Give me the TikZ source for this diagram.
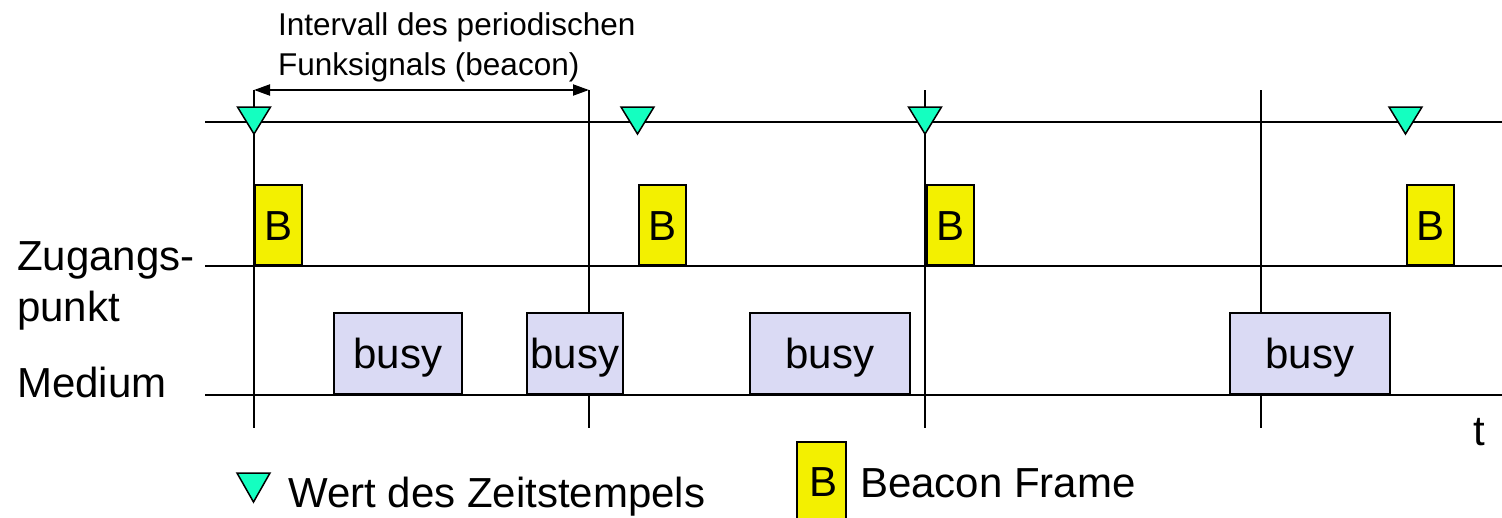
\documentclass[tikz,border=0pt]{standalone}
\usepackage{fontspec}
\setmainfont{Liberation Sans}
\usetikzlibrary{arrows.meta}
\definecolor{byellow}{RGB}{243,240,0}
\definecolor{busyc}{RGB}{218,218,244}
\definecolor{mint}{RGB}{20,255,192}
\tikzset{
  ln/.style={line width=2pt, black},
  bbox/.style={draw=black, line width=1.8pt, fill=byellow, inner sep=0pt,
    minimum width=47pt, minimum height=80pt, anchor=south west,
    font=\fontsize{42}{50}\selectfont, text height=30pt, text depth=0pt},
  busybox/.style={draw=black, line width=1.8pt, fill=busyc, inner sep=0pt,
    minimum height=81pt, anchor=south west,
    font=\fontsize{42}{50}\selectfont, text height=30pt, text depth=0pt},
  tri/.style={draw=black, line width=1.5pt, fill=mint, line join=miter},
  lbl/.style={anchor=base west, inner sep=0pt, font=\fontsize{42}{50}\selectfont},
  small/.style={anchor=base west, inner sep=0pt, font=\fontsize{31.5}{40}\selectfont},
}
\begin{document}
\begin{tikzpicture}[x=1pt,y=-1pt]
\useasboundingbox (0,0) rectangle (1502,517);
% vertical markers
\foreach \n/\x in {1/254,2/589,3/925,4/1261}{
  \coordinate (vt\n) at (\x,90);
  \coordinate (vb\n) at (\x,428);
  \draw[ln] (vt\n) -- (vb\n);
}
% horizontal time lines
\coordinate (h1a) at (205,122); \coordinate (h1b) at (1502,122);
\coordinate (h2a) at (205,266); \coordinate (h2b) at (1502,266);
\coordinate (h3a) at (205,395); \coordinate (h3b) at (1502,395);
\draw[ln] (h1a) -- (h1b);
\draw[ln] (h2a) -- (h2b);
\draw[ln] (h3a) -- (h3b);
% interval arrow
\draw[ln, {Triangle[length=16pt,width=11pt]}-{Triangle[length=16pt,width=11pt]}] (vt1) -- (vt2);
\node[small] (int1) at (278,35) {Intervall des periodischen};
\node[small] (int2) at (278,75) {Funksignals (beacon)};
% beacon frames
\node[bbox] (b1) at (254,266) {B};
\node[bbox] (b2) at (638,266) {B};
\node[bbox] (b3) at (926,266) {B};
\node[bbox] (b4) at (1406,266) {B};
% busy boxes
\node[busybox, minimum width=128pt] (m1) at (333,395) {busy};
\node[busybox, minimum width=96pt] (m2) at (526,395) {busy};
\node[busybox, minimum width=160pt] (m3) at (749,395) {busy};
\node[busybox, minimum width=160pt] (m4) at (1229,395) {busy};
% timestamp triangles
\foreach \x in {254,637.5,925,1405.5}{
  \draw[tri] (\x-16.5,107) -- (\x+16.5,107) -- (\x,134) -- cycle;
}
% labels
\node[lbl] (zug) at (17,270) {Zugangs-};
\node[lbl] (pkt) at (17,321) {punkt};
\node[lbl] (med) at (17,397) {Medium};
\node[lbl] (t) at (1473,445) {t};
% legend
\draw[tri] (237,473) -- (270,473) -- (253.5,502) -- cycle;
\node[lbl] (lg1) at (288,507) {Wert des Zeitstempels};
\draw[draw=black, line width=1.8pt, fill=byellow] (797,530) -- (797,442) -- (846,442) -- (846,530);
\node[lbl] (lgb) at (809,496) {B};
\node[lbl] (lg2) at (860,497) {Beacon Frame};
\end{tikzpicture}
\end{document}
